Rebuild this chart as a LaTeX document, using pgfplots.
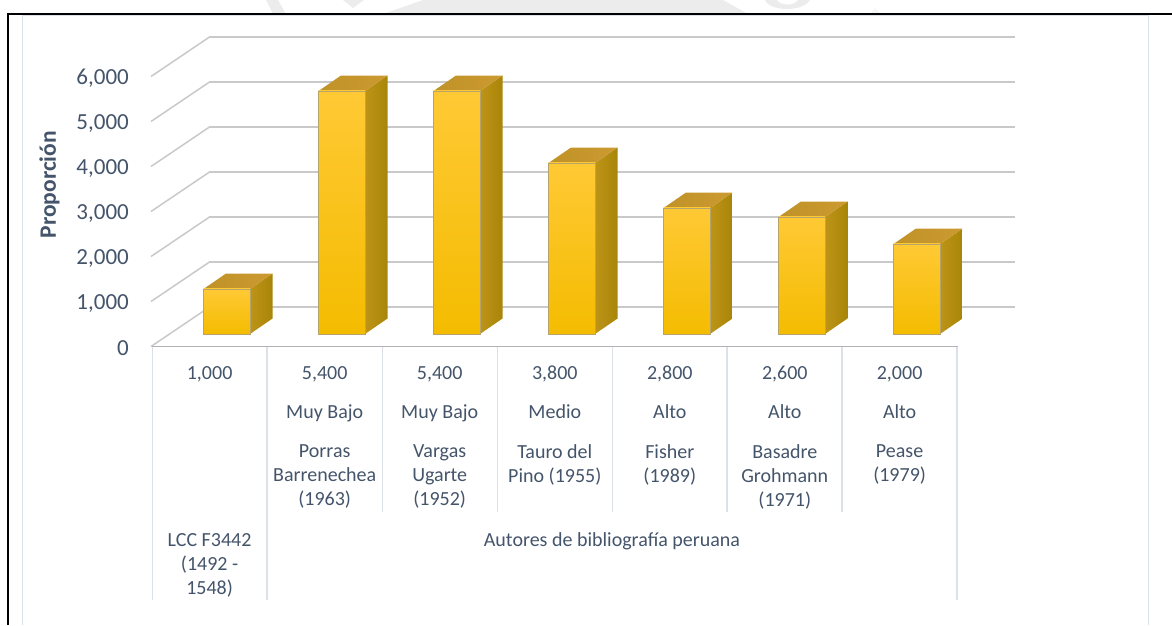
\documentclass[border=0pt]{standalone}
\usepackage{fontspec}
\setmainfont{Carlito}
\usepackage{pgfplots}
\pgfplotsset{compat=1.18}
\definecolor{texto}{HTML}{44546A}
\definecolor{rejilla}{HTML}{C9C9C9}
\definecolor{marco}{HTML}{DCE1E7}
\definecolor{sello}{HTML}{ECECEC}
\definecolor{ladoa}{HTML}{BD9418}
\definecolor{ladob}{HTML}{A88508}
\definecolor{tapaa}{HTML}{BF9228}
\definecolor{tapab}{HTML}{CC9A30}
\definecolor{fra}{HTML}{FFC935}
\definecolor{frb}{HTML}{FFCC08}
\definecolor{frc}{HTML}{F4BC00}
\definecolor{borde}{HTML}{B8A468}

% bar: left edge in px, value; front base sits above the zero line
\newcommand{\caja}[2]{%
  \pgfmathsetmacro\xa{#1}\pgfmathsetmacro\xb{#1+46.5}\pgfmathsetmacro\xc{#1+69}\pgfmathsetmacro\xd{#1+22.5}%
  \pgfmathsetmacro\ya{278}\pgfmathsetmacro\yb{278+#2}%
  \pgfmathsetmacro\yc{278+344}\pgfmathsetmacro\yd{278+344+#2}%
  \addplot[draw=none,left color=ladoa,right color=ladob] coordinates {(\xb,\ya) (\xc,\yc) (\xc,\yd) (\xb,\yb)} -- cycle;
  \addplot[draw=none,left color=tapaa,right color=tapab] coordinates {(\xa,\yb) (\xb,\yb) (\xc,\yd) (\xd,\yd)} -- cycle;
  \addplot[draw=borde,line width=0.5pt,top color=fra,middle color=frb,bottom color=frc] coordinates {(\xa,\ya) (\xb,\ya) (\xb,\yb) (\xa,\yb)} -- cycle;
}
% back wall line for one tick value, with its floor diagonal
\newcommand{\rejilla}[1]{%
  \pgfmathsetmacro\ya{#1}\pgfmathsetmacro\yb{#1+878}%
  \addplot[rejilla,line width=1.5pt] coordinates {(151,\ya) (209.5,\yb)};
  \addplot[rejilla,line width=2.2pt] coordinates {(209,\yb) (1015,\yb)};
}

\begin{document}
\begin{tikzpicture}
\path[use as bounding box] (0pt,-625pt) rectangle (1172pt,0pt);

% faint seal showing above the frame
\fill[sello] (383pt,-14pt) -- (423pt,0pt) -- (723pt,0pt) -- (748pt,-14pt) -- cycle;
\fill[sello] (266pt,0pt) -- (278pt,0pt) -- (286pt,-14pt) -- (273pt,-14pt) -- cycle;
\fill[sello] (343pt,0pt) -- (364pt,0pt) -- (353pt,-8pt) -- cycle;
\fill[sello] (765pt,0pt) .. controls (770pt,-12pt) and (803pt,-12pt) .. (810pt,0pt) -- (798pt,0pt) .. controls (795pt,-6pt) and (780pt,-6pt) .. (777pt,0pt) -- cycle;
\fill[sello!50] (870pt,-14pt) -- (875pt,-8pt) -- (881pt,-14pt) -- cycle;

\begin{axis}[
  at={(151pt,-346.5pt)},anchor=south west,
  x=1pt,y=0.045pt,
  xmin=151,xmax=1015,ymin=0,ymax=6878,
  clip=false,
  axis x line=none,
  axis y line*=left,
  y axis line style={draw=none},
  major tick length=0pt,
  ytick={0,1000,2000,3000,4000,5000,6000},
  /pgf/number format/assume math mode=true,
  /pgf/number format/1000 sep={,},
  yticklabel style={font=\fontsize{23}{26}\selectfont,text=texto,anchor=east,inner sep=0pt,xshift=-22pt,yshift=-2pt},
  ylabel={\textbf{Proporción}},
  ylabel style={font=\fontsize{23.5}{26}\selectfont,text=texto,at={(axis description cs:0,0.5226)},anchor=south,yshift=88pt},
]
\rejilla{0}
\rejilla{1000}
\rejilla{2000}
\rejilla{3000}
\rejilla{4000}
\rejilla{5000}
\rejilla{6000}
\caja{203.5}{1000}
\caja{318.5}{5400}
\caja{433.5}{5400}
\caja{548.5}{3800}
\caja{663.5}{2800}
\caja{778.5}{2600}
\caja{893.5}{2000}
\end{axis}

% chart area frame and page rule
\draw[marco,line width=1pt] (22.7pt,-625pt) -- (22.7pt,-15.5pt) -- (1148.7pt,-15.5pt) -- (1148.7pt,-625pt);
\draw[black,line width=1.3pt] (7.5pt,-14pt) -- (1148pt,-14pt);
\draw[black,line width=2pt] (1148pt,-14pt) -- (1172pt,-14pt);
\draw[black,line width=2pt] (7.5pt,-625pt) -- (7.5pt,-13pt);

% data table under the axis
\draw[gray!60,line width=1pt] (152pt,-346.5pt) -- (958pt,-346.5pt);
\foreach \x in {382.3,497.3,612.3,727,842}
  \draw[marco,line width=1.2pt] (\x pt,-347pt) -- (\x pt,-512pt);
\foreach \x in {152.3,267,957}
  \draw[marco,line width=1.2pt] (\x pt,-347pt) -- (\x pt,-600pt);

\tikzset{celda/.style={text=texto,font=\fontsize{20}{24}\selectfont,align=center,inner sep=0pt,anchor=center}}
\foreach \x/\v/\n in {209.6/{1,000}/{},324.7/{5,400}/{Muy Bajo},439.7/{5,400}/{Muy Bajo},554.8/{3,800}/{Medio},669.8/{2,800}/{Alto},784.8/{2,600}/{Alto},899.6/{2,000}/{Alto}}{
  \node[celda,anchor=base] at (\x pt,-379.3pt) {\v};
  \node[celda,anchor=base] at (\x pt,-418.5pt) {\n};
}
\tikzset{autor/.style={celda,anchor=north}}
\node[autor] at (324.7pt,-444.7pt) {Porras\\Barrenechea\\(1963)};
\node[autor] at (439.7pt,-444.7pt) {Vargas\\Ugarte\\(1952)};
\node[autor] at (554.8pt,-444.7pt) {Tauro del\\Pino (1955)};
\node[autor] at (669.8pt,-444.7pt) {Fisher\\(1989)};
\node[autor] at (784.8pt,-444.7pt) {Basadre\\Grohmann\\(1971)};
\node[autor] at (899.6pt,-444.7pt) {Pease\\(1979)};
\node[autor] at (209.6pt,-533pt) {LCC F3442\\(1492 -\\1548)};
\node[celda] at (612pt,-541pt) {Autores de bibliografía peruana};
\end{tikzpicture}
\end{document}
